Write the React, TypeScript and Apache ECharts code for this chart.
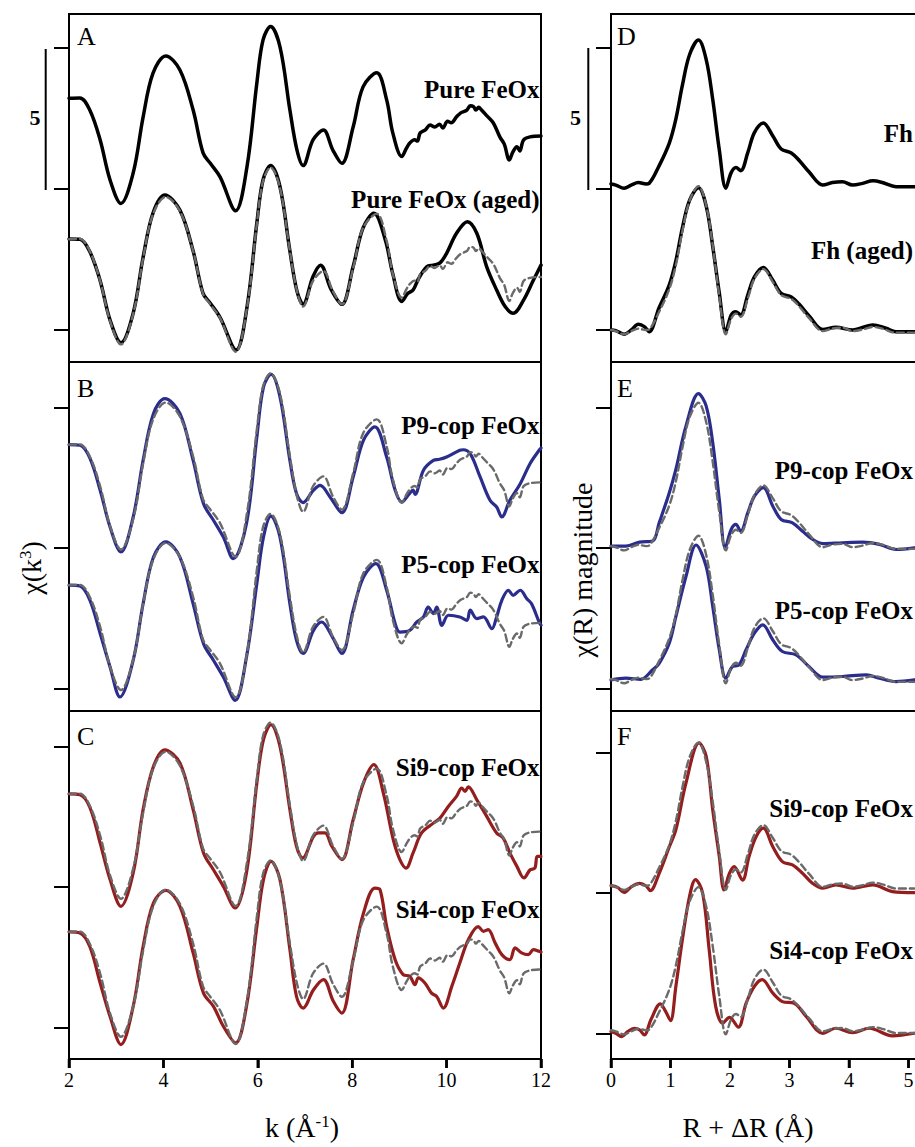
import React, { useEffect, useRef } from 'react';
import * as echarts from 'echarts';

type Pt = [number, number];

// ---------- k-space data (χ(k)·k³, relative to each curve's own baseline) ----------
const kPureFeOx: Pt[] = [[2.00,3.22],[2.23,3.23],[2.44,2.80],[2.66,1.74],[2.87,0.32],[3.10,-0.51],[3.36,0.57],[3.57,2.55],[3.78,4.11],[4.05,4.72],[4.35,4.22],[4.63,2.80],[4.84,1.28],[4.99,0.92],[5.20,0.43],[5.53,-0.77],[5.77,0.78],[5.98,3.76],[6.11,5.28],[6.27,5.76],[6.47,5.04],[6.68,2.80],[6.83,1.38],[6.96,0.83],[7.17,1.74],[7.39,2.09],[7.59,1.38],[7.78,0.91],[8.02,2.20],[8.23,3.62],[8.52,4.12],[8.73,3.16],[8.86,1.99],[9.05,1.15],[9.15,1.45],[9.22,1.63],[9.32,1.75],[9.38,1.70],[9.44,1.99],[9.55,2.10],[9.65,2.27],[9.75,2.20],[9.85,2.30],[9.92,2.16],[10.02,2.40],[10.10,2.35],[10.21,2.56],[10.30,2.70],[10.43,2.80],[10.50,2.95],[10.57,2.92],[10.62,2.80],[10.68,2.90],[10.74,2.80],[10.85,2.60],[10.99,2.34],[11.13,1.84],[11.22,1.60],[11.33,1.03],[11.40,1.30],[11.49,1.50],[11.55,1.35],[11.63,1.74],[11.77,1.85],[12.00,1.88]];

const kPureFeOxAged: Pt[] = [[2.00,3.23],[2.23,3.22],[2.44,2.78],[2.66,1.75],[2.87,0.35],[3.10,-0.45],[3.36,0.60],[3.57,2.58],[3.78,4.15],[4.03,4.79],[4.35,4.25],[4.63,2.80],[4.84,1.30],[4.99,0.96],[5.20,0.45],[5.54,-0.71],[5.77,0.80],[5.98,3.80],[6.11,5.32],[6.27,5.83],[6.47,5.08],[6.68,2.80],[6.83,1.38],[6.96,0.91],[7.17,1.90],[7.33,2.30],[7.55,1.45],[7.78,0.91],[8.02,2.25],[8.23,3.62],[8.46,4.14],[8.70,3.20],[8.86,1.99],[9.05,1.01],[9.18,1.30],[9.29,1.42],[9.40,1.80],[9.58,2.24],[9.72,2.30],[9.86,2.38],[10.00,2.72],[10.21,3.43],[10.44,3.84],[10.64,3.43],[10.85,2.24],[11.06,1.42],[11.24,0.83],[11.41,0.59],[11.63,1.06],[11.84,1.77],[12.00,2.30]];

const kP9: Pt[] = [[2.00,3.22],[2.23,3.20],[2.44,2.75],[2.66,1.60],[2.87,0.29],[3.10,-0.60],[3.36,0.65],[3.57,2.66],[3.79,4.33],[4.03,4.86],[4.35,4.33],[4.63,2.66],[4.85,1.12],[5.06,0.53],[5.27,-0.07],[5.48,-0.84],[5.76,0.41],[5.98,3.49],[6.12,5.27],[6.28,5.72],[6.47,4.92],[6.68,2.66],[6.82,1.48],[6.96,1.16],[7.18,1.60],[7.32,1.77],[7.53,1.36],[7.78,0.80],[8.02,2.07],[8.24,3.38],[8.48,3.85],[8.73,2.78],[8.91,1.60],[9.05,1.18],[9.20,1.45],[9.29,1.60],[9.33,1.45],[9.51,2.31],[9.72,2.66],[9.85,2.70],[10.00,2.78],[10.28,3.02],[10.35,3.04],[10.50,2.90],[10.71,2.07],[10.92,1.24],[11.06,1.00],[11.17,0.65],[11.34,1.24],[11.56,1.83],[11.77,2.55],[11.96,3.02],[12.00,3.10]];

const kP5: Pt[] = [[2.00,3.22],[2.23,3.19],[2.44,2.70],[2.66,1.50],[2.87,0.31],[3.08,-0.76],[3.36,0.55],[3.57,2.56],[3.79,4.22],[4.05,4.76],[4.35,4.22],[4.63,2.56],[4.85,1.14],[5.06,0.55],[5.27,-0.05],[5.52,-0.88],[5.76,0.66],[5.98,3.28],[6.12,4.93],[6.28,5.68],[6.47,4.93],[6.68,2.56],[6.82,1.26],[6.96,0.79],[7.18,1.61],[7.35,1.91],[7.57,1.41],[7.78,0.79],[8.02,2.33],[8.24,3.51],[8.50,3.99],[8.73,3.04],[8.91,1.85],[9.01,1.55],[9.22,1.61],[9.37,1.91],[9.51,2.09],[9.61,2.44],[9.72,2.21],[9.79,2.44],[9.90,1.79],[10.04,2.15],[10.28,2.09],[10.43,1.97],[10.50,2.33],[10.64,2.03],[10.78,2.09],[10.96,1.67],[11.06,2.09],[11.17,2.68],[11.31,3.04],[11.41,2.86],[11.56,3.04],[11.70,2.74],[11.80,2.56],[11.96,1.91],[12.00,1.80]];

const kSi9: Pt[] = [[2.00,3.22],[2.23,3.19],[2.44,2.75],[2.66,1.47],[2.87,0.17],[3.10,-0.78],[3.36,0.41],[3.57,2.66],[3.79,4.20],[4.03,4.79],[4.35,4.32],[4.63,2.66],[4.85,1.12],[5.06,0.52],[5.27,-0.07],[5.52,-0.84],[5.76,0.41],[5.98,3.61],[6.12,5.15],[6.28,5.68],[6.47,4.91],[6.68,2.66],[6.82,1.35],[6.95,0.94],[7.18,1.71],[7.28,1.83],[7.42,1.83],[7.57,1.35],[7.78,0.88],[8.02,2.30],[8.24,3.61],[8.46,4.26],[8.66,3.25],[8.87,1.59],[9.01,0.88],[9.14,0.58],[9.29,1.12],[9.47,1.83],[9.72,2.18],[9.86,2.36],[10.04,2.78],[10.21,3.13],[10.32,3.43],[10.39,3.31],[10.46,3.47],[10.64,3.01],[10.85,2.42],[11.06,1.83],[11.20,1.65],[11.34,1.12],[11.49,0.64],[11.64,0.23],[11.77,0.52],[11.87,0.58],[11.92,1.00],[12.00,1.00]];

const kSi4: Pt[] = [[2.00,3.22],[2.23,3.18],[2.44,2.70],[2.66,1.40],[2.87,0.21],[3.10,-0.79],[3.36,0.57],[3.57,2.70],[3.79,4.25],[4.05,4.70],[4.35,4.13],[4.63,2.47],[4.85,1.04],[5.06,0.57],[5.27,-0.14],[5.53,-0.73],[5.76,0.57],[5.98,3.41],[6.12,5.08],[6.28,5.73],[6.47,5.08],[6.68,2.59],[6.82,0.92],[6.96,0.51],[7.18,1.16],[7.39,1.52],[7.60,0.75],[7.78,0.33],[8.02,2.23],[8.24,3.89],[8.48,4.78],[8.59,4.72],[8.73,3.41],[8.91,2.23],[9.08,1.70],[9.22,1.64],[9.33,1.34],[9.40,1.58],[9.54,1.40],[9.68,1.04],[9.79,0.92],[9.93,0.51],[10.11,1.28],[10.28,2.11],[10.46,2.94],[10.67,3.41],[10.78,3.24],[10.88,3.30],[11.03,2.82],[11.17,2.41],[11.34,2.23],[11.45,2.65],[11.59,2.47],[11.73,2.41],[11.84,2.59],[11.96,2.53],[12.00,2.50]];

// ---------- R-space data (|χ(R)|, relative to each curve's baseline) ----------
const rFh: Pt[] = [[0.00,0.00],[0.08,-0.04],[0.22,-0.15],[0.34,-0.04],[0.46,0.05],[0.59,0.00],[0.64,0.02],[0.81,0.65],[0.98,1.45],[1.09,2.30],[1.20,3.50],[1.32,4.58],[1.47,5.10],[1.60,4.41],[1.71,2.99],[1.82,1.21],[1.93,-0.15],[2.02,0.40],[2.10,0.58],[2.18,0.47],[2.30,1.12],[2.41,1.82],[2.56,2.16],[2.72,1.70],[2.86,1.24],[3.03,1.10],[3.16,0.84],[3.33,0.42],[3.56,-0.04],[3.72,0.05],[3.89,0.08],[4.06,-0.04],[4.23,0.02],[4.40,0.11],[4.56,0.05],[4.79,-0.10],[4.96,-0.10],[5.10,-0.10]];

const rFhAged: Pt[] = [[0.00,0.00],[0.08,-0.02],[0.22,-0.15],[0.34,0.00],[0.46,0.20],[0.56,0.12],[0.64,-0.06],[0.81,0.80],[0.98,1.60],[1.09,2.45],[1.20,3.62],[1.32,4.60],[1.47,5.04],[1.60,4.39],[1.71,2.96],[1.82,1.31],[1.93,-0.06],[2.02,0.53],[2.10,0.65],[2.18,0.53],[2.30,1.25],[2.41,1.88],[2.56,2.22],[2.72,1.76],[2.86,1.30],[3.03,1.17],[3.16,0.92],[3.33,0.50],[3.56,0.02],[3.78,0.10],[4.06,0.00],[4.40,0.18],[4.62,0.06],[4.79,-0.06],[5.10,-0.06]];

const rP9: Pt[] = [[0.00,0.03],[0.25,0.03],[0.48,0.17],[0.70,0.21],[0.81,0.86],[0.98,1.93],[1.09,2.76],[1.26,4.30],[1.47,5.46],[1.60,5.01],[1.71,3.71],[1.82,1.69],[1.92,-0.03],[2.02,0.62],[2.10,0.80],[2.18,0.56],[2.30,1.22],[2.41,1.81],[2.56,2.11],[2.72,1.45],[2.86,0.98],[3.05,0.86],[3.22,0.56],[3.39,0.27],[3.56,0.12],[3.89,0.15],[4.23,0.17],[4.51,0.09],[4.79,-0.09],[5.10,-0.03]];

const rP5: Pt[] = [[0.00,0.00],[0.25,0.06],[0.50,0.02],[0.70,0.36],[0.81,0.59],[0.98,1.31],[1.09,2.25],[1.26,3.68],[1.43,4.80],[1.60,4.03],[1.71,2.61],[1.82,1.07],[1.93,0.06],[2.04,0.47],[2.15,0.53],[2.27,1.07],[2.41,1.66],[2.55,1.96],[2.72,1.42],[2.88,1.01],[3.11,0.89],[3.33,0.47],[3.56,0.10],[3.89,0.12],[4.29,0.18],[4.51,0.06],[4.79,-0.06],[5.10,0.00]];

const rSi9: Pt[] = [[0.00,0.00],[0.11,-0.06],[0.22,-0.24],[0.34,-0.04],[0.48,0.08],[0.59,-0.01],[0.66,-0.18],[0.81,0.44],[0.98,1.39],[1.09,1.99],[1.26,3.66],[1.48,5.09],[1.60,4.61],[1.71,2.70],[1.82,1.04],[1.90,-0.15],[1.99,0.44],[2.07,0.68],[2.21,0.20],[2.32,1.04],[2.44,1.75],[2.56,2.05],[2.72,1.39],[2.88,0.86],[3.05,0.74],[3.22,0.44],[3.39,0.08],[3.56,-0.09],[3.78,0.03],[4.06,-0.09],[4.40,0.03],[4.73,-0.21],[5.10,-0.25]];

const rSi4: Pt[] = [[0.00,0.00],[0.08,-0.06],[0.18,-0.18],[0.28,0.00],[0.39,0.12],[0.48,0.06],[0.56,-0.12],[0.67,0.42],[0.83,0.99],[0.92,0.71],[1.00,0.39],[1.09,1.61],[1.20,3.28],[1.32,4.82],[1.42,5.42],[1.54,4.94],[1.65,2.92],[1.76,0.89],[1.88,0.30],[1.99,0.51],[2.14,0.16],[2.27,1.01],[2.41,1.61],[2.54,1.85],[2.72,1.37],[2.88,1.07],[3.08,1.01],[3.28,0.54],[3.56,-0.06],[3.78,0.12],[4.06,-0.04],[4.34,0.12],[4.73,-0.15],[5.10,-0.06]];

// ---------- stacking offsets (in units above each panel's lowest tick) ----------
const offsetsA = { top: 5.0, bottom: 0.0, ref: 0.0 };
const offsetsB = { top: 5.45, refTop: 5.45, bottom: 0.45, refBottom: 0.45 };
const offsetsC = { top: 5.10, refTop: 5.10, bottom: 0.19, refBottom: 0.19 };
const offsetsD = { top: 5.18, bottom: 0.0, ref: 0.0 };
const offsetsE = { top: 5.03, refTop: 5.06, bottom: 0.30, refBottom: 0.33 };
const offsetsF = { top: 5.26, refTop: 5.26, bottom: 0.06, refBottom: 0.11 };

const yTicks = [0, 5, 10];
const kTicks = [2, 4, 6, 8, 10, 12];
const rTicks = [0, 1, 2, 3, 4, 5];

const sampleLabels = {
  A: ['Pure FeOx', 'Pure FeOx (aged)'],
  B: ['P9-cop FeOx', 'P5-cop FeOx'],
  C: ['Si9-cop FeOx', 'Si4-cop FeOx'],
  D: ['Fh', 'Fh (aged)'],
  E: ['P9-cop FeOx', 'P5-cop FeOx'],
  F: ['Si9-cop FeOx', 'Si4-cop FeOx'],
};

// ---------- styling / layout ----------
const FONT = '"Liberation Serif", "Times New Roman", serif';
const BLACK = '#000000';
const BLUE = '#2b2d8c';
const RED = '#941d1d';
const GREY = '#6a6a6a';
const CHART_W = 950; // chart canvas is wider than the page; right column runs off the edge
const PAGE_W = 915;
const PAGE_H = 1147;
const ROWS = [
  { top: 14, height: 348 },
  { top: 362, height: 349 },
  { top: 711, height: 348 },
];
const COLS = [
  { left: 69, width: 472, min: 2, max: 12, interval: 2, ticks: kTicks },
  { left: 611, width: 334, min: 0, max: 334 / 59.5, interval: 1, ticks: rTicks },
];

const shift = (arr: Pt[], off: number): Pt[] => arr.map(([x, y]) => [x, y + off]);

function buildOption() {
  // extent of each panel relative to its lowest tick (bottom, top)
  const yExt = [
    [-1.135, 11.206], [-0.808, 11.612], [-1.114, 11.27],
    [-1.135, 11.206], [-0.808, 11.612], [-0.916, 11.486],
  ];
  const base = yExt.map((e) => -e[0]);

  const grid: any[] = [];
  const xAxis: any[] = [];
  const yAxis: any[] = [];
  const axisLineStyle = { color: BLACK, width: 2 };
  for (let c = 0; c < 2; c++) {
    for (let r = 0; r < 3; r++) {
      const i = c * 3 + r;
      const col = COLS[c];
      const bottom = r === 2;
      grid.push({
        left: col.left, width: col.width, top: ROWS[r].top, height: ROWS[r].height,
        show: true, borderColor: BLACK, borderWidth: 2, backgroundColor: 'transparent',
      });
      xAxis.push({
        gridIndex: i, type: 'value', min: col.min, max: col.max, interval: col.interval,
        axisLine: { show: bottom, lineStyle: axisLineStyle }, splitLine: { show: false },
        axisTick: { show: bottom, inside: false, length: 9, lineStyle: { color: BLACK, width: 2.5 } },
        axisLabel: { show: bottom, showMaxLabel: c === 0, fontFamily: FONT, fontSize: 20, color: BLACK, margin: 11 },
      });
      yAxis.push({
        gridIndex: i, type: 'value', min: 0, max: yExt[i][1] + base[i],
        axisLine: { show: false, onZero: false }, splitLine: { show: false },
        axisTick: { show: true, customValues: yTicks.map((t) => t + base[i]), length: 15, lineStyle: axisLineStyle },
        axisLabel: { show: false },
      });
    }
  }

  const series: any[] = [];
  const line = (i: number, data: Pt[], off: number, color: string, width: number, dashed: boolean) => {
    series.push({
      type: 'line', xAxisIndex: i, yAxisIndex: i, data: shift(data, off + base[i]),
      showSymbol: false, symbol: 'none', smooth: 0.35, silent: true, z: dashed ? 3 : 2,
      lineStyle: { color, width, type: dashed ? [7, 4] : 'solid', cap: 'round', join: 'round' },
    });
  };
  // A
  line(0, kPureFeOx, offsetsA.top, BLACK, 3.5, false);
  line(0, kPureFeOxAged, offsetsA.bottom, BLACK, 3.5, false);
  line(0, kPureFeOx, offsetsA.ref, GREY, 2.4, true);
  // B
  line(1, kP9, offsetsB.top, BLUE, 3.2, false);
  line(1, kPureFeOx, offsetsB.refTop, GREY, 2.4, true);
  line(1, kP5, offsetsB.bottom, BLUE, 3.2, false);
  line(1, kPureFeOx, offsetsB.refBottom, GREY, 2.4, true);
  // C
  line(2, kSi9, offsetsC.top, RED, 3.2, false);
  line(2, kPureFeOx, offsetsC.refTop, GREY, 2.4, true);
  line(2, kSi4, offsetsC.bottom, RED, 3.2, false);
  line(2, kPureFeOx, offsetsC.refBottom, GREY, 2.4, true);
  // D
  line(3, rFh, offsetsD.top, BLACK, 3.5, false);
  line(3, rFhAged, offsetsD.bottom, BLACK, 3.5, false);
  line(3, rFh, offsetsD.ref, GREY, 2.4, true);
  // E
  line(4, rP9, offsetsE.top, BLUE, 3.2, false);
  line(4, rFh, offsetsE.refTop, GREY, 2.4, true);
  line(4, rP5, offsetsE.bottom, BLUE, 3.2, false);
  line(4, rFh, offsetsE.refBottom, GREY, 2.4, true);
  // F
  line(5, rSi9, offsetsF.top, RED, 3.2, false);
  line(5, rFh, offsetsF.refTop, GREY, 2.4, true);
  line(5, rSi4, offsetsF.bottom, RED, 3.2, false);
  line(5, rFh, offsetsF.refBottom, GREY, 2.4, true);

  const txt = (text: string, x: number, y: number, size: number, weight: string, align: string) => ({
    type: 'text', x, y, silent: true, z: 10,
    style: {
      text, fill: BLACK, fontFamily: FONT, fontSize: size, fontWeight: weight,
      textAlign: align, textVerticalAlign: 'middle', verticalAlign: 'middle',
    },
  });

  const labelY = {
    A: [89.4, 199.7], B: [425, 564.4], C: [767.7, 909],
    D: [133.4, 250.7], E: [470, 610], F: [808.4, 950],
  };
  const graphic: any[] = [];
  (['A', 'B', 'C'] as const).forEach((p) => {
    graphic.push(txt(sampleLabels[p][0], 539.5, labelY[p][0], 25, 'bold', 'right'));
    graphic.push(txt(sampleLabels[p][1], 539.5, labelY[p][1], 25, 'bold', 'right'));
  });
  (['D', 'E', 'F'] as const).forEach((p) => {
    graphic.push(txt(sampleLabels[p][0], 913, labelY[p][0], 25, 'bold', 'right'));
    graphic.push(txt(sampleLabels[p][1], 913, labelY[p][1], 25, 'bold', 'right'));
  });
  // panel letters
  const letterY = [36.5, 388, 736.5];
  ['A', 'B', 'C'].forEach((l, r) => graphic.push(txt(l, 77, letterY[r], 26, 'normal', 'left')));
  ['D', 'E', 'F'].forEach((l, r) => graphic.push(txt(l, 617, letterY[r], 26, 'normal', 'left')));
  // scale bars
  graphic.push({ type: 'line', silent: true, shape: { x1: 45.7, y1: 49, x2: 45.7, y2: 190 }, style: { stroke: BLACK, lineWidth: 2 } });
  graphic.push({ type: 'line', silent: true, shape: { x1: 588.3, y1: 48, x2: 588.3, y2: 190 }, style: { stroke: BLACK, lineWidth: 2 } });
  graphic.push(txt('5', 35, 117.5, 22, 'bold', 'center'));
  graphic.push(txt('5', 575.5, 117, 22, 'bold', 'center'));
  // bottom-axis tick marks (frame decoration at the axes' tick values)
  const yBottom = ROWS[2].top + ROWS[2].height;
  COLS.forEach((col) => {
    col.ticks.forEach((v) => {
      const x = col.left + ((v - col.min) / (col.max - col.min)) * col.width;
      graphic.push({
        type: 'rect', silent: true, z: 100,
        shape: { x: x - 1.25, y: yBottom, width: 2.5, height: 9 },
        style: { fill: BLACK },
      });
    });
  });
  // axis titles
  const richBase = { fontFamily: FONT, fontSize: 28, fill: BLACK, color: BLACK };
  const richSup = { fontFamily: FONT, fontSize: 17, fill: BLACK, color: BLACK, verticalAlign: 'top' };
  graphic.push({
    type: 'text', x: 302, y: 1127, silent: true,
    style: { text: '{a|k (Å}{s|-1}{a|)}', rich: { a: richBase, s: richSup }, textAlign: 'center', textVerticalAlign: 'middle', verticalAlign: 'middle' },
  });
  graphic.push({
    type: 'text', x: 748, y: 1127, silent: true,
    style: { text: 'R + ΔR (Å)', fontFamily: FONT, fontSize: 28, fill: BLACK, textAlign: 'center', textVerticalAlign: 'middle', verticalAlign: 'middle' },
  });
  graphic.push({
    type: 'text', x: 31, y: 568, rotation: Math.PI / 2, silent: true,
    style: { text: '{a|χ(k}{s|3}{a|)}', rich: { a: richBase, s: richSup }, textAlign: 'center', textVerticalAlign: 'middle', verticalAlign: 'middle' },
  });
  graphic.push({
    type: 'text', x: 582, y: 570, rotation: Math.PI / 2, silent: true,
    style: { text: 'χ(R) magnitude', fontFamily: FONT, fontSize: 28, fill: BLACK, textAlign: 'center', textVerticalAlign: 'middle', verticalAlign: 'middle' },
  });

  return {
    animation: false,
    backgroundColor: '#ffffff',
    grid, xAxis, yAxis, series, graphic,
  };
}

export default function App() {
  const ref = useRef<HTMLDivElement>(null);
  useEffect(() => {
    const chart = echarts.init(ref.current!, null, { renderer: 'svg' });
    chart.setOption(buildOption() as any);
    return () => chart.dispose();
  }, []);
  return (
    <div style={{ position: 'absolute', left: 0, top: 0, width: PAGE_W, height: PAGE_H, overflow: 'hidden', background: '#fff' }}>
      <div ref={ref} style={{ width: CHART_W, height: PAGE_H }} />
    </div>
  );
}
